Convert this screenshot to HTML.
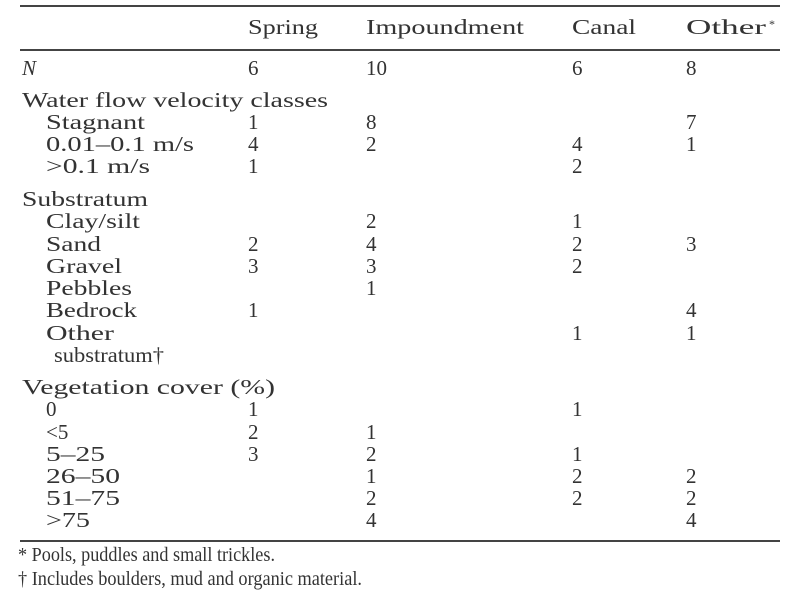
<!DOCTYPE html>
<html><head><meta charset="utf-8"><style>
html,body{margin:0;padding:0;background:#fff;}
svg{display:block;}
text{font-family:"Liberation Serif",serif;font-size:21px;fill:#333;}
</style></head><body>
<svg width="800" height="600" viewBox="0 0 800 600">
<line x1="20" y1="6" x2="780" y2="6" stroke="#444" stroke-width="2"/>
<line x1="20" y1="50" x2="780" y2="50" stroke="#444" stroke-width="2"/>
<line x1="20" y1="541" x2="780" y2="541" stroke="#444" stroke-width="2"/>

<text x="248" y="34" textLength="70" lengthAdjust="spacingAndGlyphs">Spring</text>
<text x="366" y="34" textLength="158" lengthAdjust="spacingAndGlyphs">Impoundment</text>
<text x="572" y="34" textLength="64" lengthAdjust="spacingAndGlyphs">Canal</text>
<text x="686" y="34" textLength="80" lengthAdjust="spacingAndGlyphs">Other</text><text x="769" y="28" style="font-size:12px">*</text>

<text x="22" y="75" font-style="italic">N</text>
<text x="248" y="75">6</text><text x="366" y="75">10</text><text x="572" y="75">6</text><text x="686" y="75">8</text>

<text x="22" y="107" textLength="306" lengthAdjust="spacingAndGlyphs">Water flow velocity classes</text>
<text x="46" y="129" textLength="99" lengthAdjust="spacingAndGlyphs">Stagnant</text><text x="248" y="129">1</text><text x="366" y="129">8</text><text x="686" y="129">7</text>
<text x="46" y="151" textLength="148" lengthAdjust="spacingAndGlyphs">0.01–0.1 m/s</text><text x="248" y="151">4</text><text x="366" y="151">2</text><text x="572" y="151">4</text><text x="686" y="151">1</text>
<text x="46" y="173" textLength="104" lengthAdjust="spacingAndGlyphs">&gt;0.1 m/s</text><text x="248" y="173">1</text><text x="572" y="173">2</text>

<text x="22" y="206" textLength="126" lengthAdjust="spacingAndGlyphs">Substratum</text>
<text x="46" y="228" textLength="94" lengthAdjust="spacingAndGlyphs">Clay/silt</text><text x="366" y="228">2</text><text x="572" y="228">1</text>
<text x="46" y="251" textLength="55" lengthAdjust="spacingAndGlyphs">Sand</text><text x="248" y="251">2</text><text x="366" y="251">4</text><text x="572" y="251">2</text><text x="686" y="251">3</text>
<text x="46" y="273" textLength="76" lengthAdjust="spacingAndGlyphs">Gravel</text><text x="248" y="273">3</text><text x="366" y="273">3</text><text x="572" y="273">2</text>
<text x="46" y="295" textLength="86" lengthAdjust="spacingAndGlyphs">Pebbles</text><text x="366" y="295">1</text>
<text x="46" y="317" textLength="91" lengthAdjust="spacingAndGlyphs">Bedrock</text><text x="248" y="317">1</text><text x="686" y="317">4</text>
<text x="46" y="340" textLength="68" lengthAdjust="spacingAndGlyphs">Other</text><text x="572" y="340">1</text><text x="686" y="340">1</text>
<text x="54" y="362" textLength="110" lengthAdjust="spacingAndGlyphs">substratum†</text>

<text x="22" y="394" textLength="253" lengthAdjust="spacingAndGlyphs">Vegetation cover (%)</text>
<text x="46" y="416">0</text><text x="248" y="416">1</text><text x="572" y="416">1</text>
<text x="46" y="439">&lt;5</text><text x="248" y="439">2</text><text x="366" y="439">1</text>
<text x="46" y="461" textLength="59" lengthAdjust="spacingAndGlyphs">5–25</text><text x="248" y="461">3</text><text x="366" y="461">2</text><text x="572" y="461">1</text>
<text x="46" y="483" textLength="74" lengthAdjust="spacingAndGlyphs">26–50</text><text x="366" y="483">1</text><text x="572" y="483">2</text><text x="686" y="483">2</text>
<text x="46" y="505" textLength="74" lengthAdjust="spacingAndGlyphs">51–75</text><text x="366" y="505">2</text><text x="572" y="505">2</text><text x="686" y="505">2</text>
<text x="46" y="527" textLength="44" lengthAdjust="spacingAndGlyphs">&gt;75</text><text x="366" y="527">4</text><text x="686" y="527">4</text>

<text x="18" y="561" style="font-size:20px" textLength="257" lengthAdjust="spacingAndGlyphs">* Pools, puddles and small trickles.</text>
<text x="18" y="585" style="font-size:20px" textLength="344" lengthAdjust="spacingAndGlyphs">† Includes boulders, mud and organic material.</text>
</svg>
</body></html>
